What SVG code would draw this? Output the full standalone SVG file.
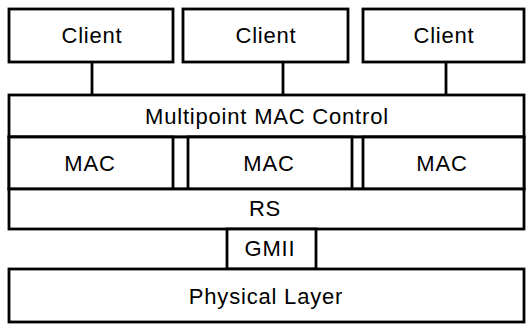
<svg xmlns="http://www.w3.org/2000/svg" width="526" height="324" viewBox="0 0 526 324">
<style>
  rect.box { fill: #fff; stroke: #000; stroke-width: 2.8; }
  line.conn { stroke: #000; stroke-width: 2.8; }
  text { font-family: "Liberation Sans", Arial, sans-serif; font-size: 22px; letter-spacing: 0.8px; text-anchor: middle; fill: #000; }
</style>
<rect x="0" y="0" width="526" height="324" fill="#fff"/>
<g id="connectors">
  <line class="conn" x1="92" y1="62" x2="92" y2="95"/>
  <line class="conn" x1="283" y1="62" x2="283" y2="95"/>
  <line class="conn" x1="446" y1="62" x2="446" y2="95"/>
</g>
<g id="client1"><rect class="box" x="9" y="9" width="164" height="53"/><text x="92" y="43">Client</text></g>
<g id="client2"><rect class="box" x="183" y="9" width="165" height="53"/><text x="266" y="43">Client</text></g>
<g id="client3"><rect class="box" x="363" y="9" width="161" height="53"/><text x="444" y="43">Client</text></g>
<g id="mpcp"><rect class="box" x="9" y="95" width="515" height="42"/><text x="267" y="124">Multipoint MAC Control</text></g>
<g id="mac-gaps"><rect class="box" x="9" y="137" width="515" height="52"/></g>
<g id="mac1"><rect class="box" x="9" y="137" width="164" height="52"/><text x="90" y="171">MAC</text></g>
<g id="mac2"><rect class="box" x="188" y="137" width="164" height="52"/><text x="269" y="171">MAC</text></g>
<g id="mac3"><rect class="box" x="363" y="137" width="161" height="52"/><text x="442" y="171">MAC</text></g>
<g id="rs"><rect class="box" x="9" y="189" width="515" height="40"/><text x="265" y="216">RS</text></g>
<g id="gmii"><rect class="box" x="227" y="229" width="89" height="40"/><text x="270" y="256">GMII</text></g>
<g id="phy"><rect class="box" x="9" y="269" width="515" height="53"/><text x="266" y="304">Physical Layer</text></g>
</svg>
